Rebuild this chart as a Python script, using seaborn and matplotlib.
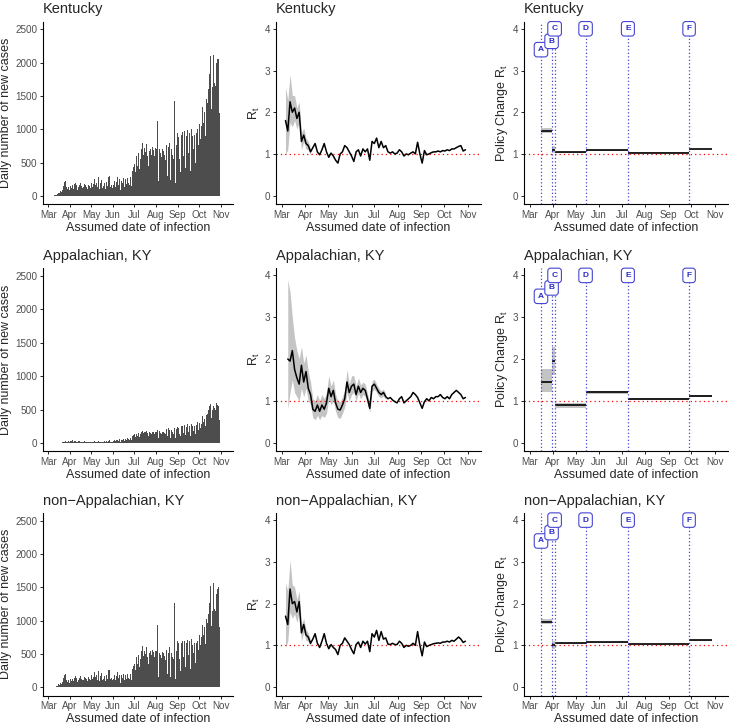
import numpy as np
import pandas as pd
import matplotlib
matplotlib.use("Agg")
import matplotlib.pyplot as plt
import matplotlib.dates as mdates
import seaborn as sns

sns.set_theme(style="ticks")
plt.rcParams["font.family"] = ["Liberation Sans", "DejaVu Sans"]

regions = ["Kentucky", "Appalachian, KY", "non\u2212Appalachian, KY"]

# daily new cases by assumed infection date, 2020-03-06 .. 2020-10-30
case_dates = pd.date_range("2020-03-06", "2020-10-30", freq="D")
cases_ky = [
    2, 3, 5, 6, 10, 12, 15,
    20, 28, 35, 50, 40, 70, 160,
    60, 90, 110, 150, 210, 230, 120,
    130, 100, 170, 140, 90, 200, 150,
    120, 160, 240, 110, 180, 130, 200,
    160, 220, 90, 140, 170, 230, 190,
    150, 260, 120, 130, 180, 200, 160,
    140, 430, 100, 170, 230, 150, 120,
    200, 360, 140, 180, 90, 250, 170,
    160, 200, 130, 280, 150, 110, 190,
    170, 240, 120, 150, 260, 200, 100,
    180, 210, 150, 130, 290, 300, 140,
    200, 170, 120, 250, 160, 230, 180,
    140, 210, 280, 130, 170, 250, 200,
    90, 230, 190, 160, 270, 140, 210,
    250, 180, 130, 270, 200, 160, 240,
    280, 150, 750, 380, 440, 400, 480,
    360, 600, 520, 450, 640, 850, 400,
    560, 700, 480, 800, 620, 380, 720,
    660, 540, 780, 600, 450, 740, 680,
    700, 350, 620, 730, 560, 690, 600,
    720, 480, 700, 1120, 650, 230, 700,
    640, 760, 580, 700, 280, 680, 620,
    720, 540, 770, 300, 660, 740, 800,
    610, 240, 700, 840, 620, 550, 1430,
    780, 200, 760, 620, 940, 880, 560,
    800, 360, 920, 850, 960, 600, 780,
    970, 420, 900, 840, 990, 640, 860,
    950, 380, 820, 1010, 900, 700, 980,
    920, 500, 1060, 940, 1000, 760, 1130,
    1080, 850, 1320, 1050, 1340, 1200, 1100,
    1260, 900, 1460, 1450, 1400, 1250, 1600,
    1830, 1550, 2100, 1300, 1640, 1210, 2120,
    1700, 1200, 1650, 2000, 2050, 2300, 2060,
    1250,
]
cases_app = [
    0, 0, 0, 0, 1, 1, 1,
    2, 2, 3, 4, 3, 5, 8,
    6, 8, 10, 12, 20, 25, 15,
    18, 14, 30, 35, 20, 40, 25,
    30, 38, 28, 20, 36, 25, 30,
    22, 34, 15, 25, 30, 28, 20,
    18, 25, 12, 20, 26, 22, 15,
    14, 30, 10, 18, 22, 16, 12,
    20, 28, 14, 18, 10, 24, 16,
    14, 20, 12, 26, 18, 10, 16,
    16, 22, 12, 18, 30, 24, 10,
    20, 28, 18, 14, 34, 38, 16,
    26, 22, 14, 38, 30, 44, 28,
    24, 40, 52, 26, 34, 56, 40,
    20, 48, 44, 36, 62, 30, 50,
    60, 46, 32, 70, 54, 40, 66,
    80, 44, 150, 110, 120, 90, 130,
    96, 140, 120, 100, 150, 170, 90,
    130, 160, 110, 180, 150, 80, 170,
    160, 120, 180, 150, 100, 170, 160,
    150, 90, 140, 170, 130, 160, 140,
    170, 110, 160, 190, 150, 70, 180,
    150, 190, 140, 170, 90, 160, 150,
    170, 130, 210, 100, 180, 230, 200,
    150, 80, 190, 240, 170, 130, 220,
    200, 70, 210, 180, 240, 220, 140,
    220, 110, 250, 200, 260, 150, 210,
    270, 120, 240, 230, 280, 160, 250,
    260, 110, 230, 290, 260, 180, 280,
    260, 140, 300, 270, 310, 200, 340,
    300, 220, 380, 290, 410, 330, 320,
    360, 250, 460, 420, 440, 330, 500,
    560, 430, 580, 380, 500, 330, 560,
    520, 320, 500, 600, 570, 610, 560,
    340,
]
cases_nonapp = [
    2, 3, 5, 6, 9, 11, 14,
    18, 26, 32, 46, 37, 65, 152,
    54, 82, 100, 138, 190, 205, 105,
    112, 86, 140, 105, 70, 160, 125,
    90, 122, 212, 90, 144, 105, 170,
    138, 186, 75, 115, 140, 202, 170,
    132, 235, 108, 110, 154, 178, 145,
    126, 400, 90, 152, 208, 134, 108,
    180, 332, 126, 162, 80, 226, 154,
    146, 180, 118, 254, 132, 100, 174,
    154, 218, 108, 132, 230, 176, 90,
    160, 182, 132, 116, 256, 262, 124,
    174, 148, 106, 212, 130, 186, 152,
    116, 170, 228, 104, 136, 194, 160,
    70, 182, 146, 124, 208, 110, 160,
    190, 134, 98, 200, 146, 120, 174,
    200, 106, 600, 270, 320, 310, 350,
    264, 460, 400, 350, 490, 680, 310,
    430, 540, 370, 620, 470, 300, 550,
    500, 420, 600, 450, 350, 570, 520,
    550, 260, 480, 560, 430, 530, 460,
    550, 370, 540, 930, 500, 160, 520,
    490, 570, 440, 530, 190, 520, 470,
    550, 410, 560, 200, 480, 510, 600,
    460, 160, 510, 600, 450, 420, 1260,
    580, 130, 550, 440, 700, 660, 420,
    580, 250, 670, 650, 700, 450, 570,
    700, 300, 660, 610, 710, 480, 610,
    690, 270, 590, 720, 640, 520, 700,
    660, 360, 760, 670, 690, 560, 790,
    780, 630, 940, 760, 930, 870, 780,
    900, 650, 1000, 1030, 960, 920, 1100,
    1270, 1120, 1520, 920, 1140, 880, 1560,
    1180, 880, 1150, 1400, 1480, 1740, 1500,
    910,
]

# Rt estimates every third day, 2020-03-06 .. 2020-10-29
rt_dates = pd.date_range("2020-03-06", "2020-10-29", freq="3D")
rt_ky = [
    1.8, 1.55, 2.25, 2.0, 2.1, 1.85, 2.0, 1.3, 1.45, 1.25,
    1.2, 1.05, 1.15, 1.25, 1.05, 0.98, 1.1, 1.25, 1.05, 0.92,
    1.02, 0.95, 0.85, 0.78, 1.0, 1.05, 1.2, 1.15, 1.05, 0.95,
    0.82, 1.05, 1.1, 0.95, 1.12, 1.05, 1.12, 0.85, 1.3, 1.25,
    1.38, 1.15, 1.3, 1.15, 1.2, 1.05, 1.02, 1.05, 1.0, 1.02,
    1.1, 1.05, 0.95, 1.0, 0.98, 1.02, 1.05, 1.0, 1.28, 1.0,
    0.78, 1.08, 0.98, 1.0, 1.03, 1.05, 1.05, 1.07, 1.05, 1.08,
    1.07, 1.1, 1.08, 1.12, 1.12, 1.15, 1.18, 1.2, 1.07, 1.1,
]
rt_app = [
    np.nan, 2.0, 1.95, 2.2, 1.75, 1.55, 1.4, 1.85, 1.45, 1.7,
    1.3, 1.15, 0.8, 0.75, 0.9, 0.75, 0.9, 0.8, 0.95, 1.3,
    1.1, 1.25, 0.95, 0.8, 0.78, 0.9, 1.05, 1.45, 1.2, 1.35,
    1.4, 1.15, 1.35, 1.2, 1.3, 1.25, 1.05, 0.82, 1.35, 1.4,
    1.3, 1.2, 1.15, 1.2, 1.1, 1.05, 1.08, 1.02, 0.98, 0.95,
    1.05, 1.1, 0.95, 1.0, 1.05, 1.1, 1.2, 1.15, 1.08, 0.95,
    0.82, 0.98, 1.05, 1.0, 1.08, 1.05, 1.1, 1.1, 1.15, 1.08,
    1.05, 1.1, 1.05, 1.15, 1.2, 1.25, 1.2, 1.15, 1.05, 1.08,
]
rt_nonapp = [
    1.7, 1.5, 2.35, 2.0, 2.05, 1.8, 2.05, 1.3, 1.5, 1.25,
    1.2, 1.05, 1.15, 1.28, 1.05, 0.95, 1.1, 1.28, 1.05, 0.92,
    1.02, 0.95, 0.9, 0.78, 1.0, 1.05, 1.18, 1.1, 1.02, 0.9,
    0.8, 1.02, 1.08, 0.95, 1.1, 1.03, 1.1, 0.85, 1.28, 1.2,
    1.36, 1.12, 1.33, 1.15, 1.18, 1.03, 1.02, 1.05, 1.02, 1.02,
    1.1, 1.05, 0.95, 1.0, 0.98, 1.0, 1.05, 1.0, 1.33, 1.0,
    0.75, 1.08, 0.97, 1.0, 1.02, 1.04, 1.05, 1.06, 1.05, 1.08,
    1.08, 1.1, 1.08, 1.12, 1.1, 1.15, 1.2, 1.15, 1.07, 1.1,
]

# credible intervals where they are wider than the line
rt_ky_lo = [1.0, 1.1, 1.75, 1.65, 1.8, 1.6, 1.75, 1.1, 1.3, 1.12, 1.1, 0.97]
rt_ky_hi = [2.6, 2.3, 2.9, 2.4, 2.4, 2.1, 2.25, 1.5, 1.62, 1.38, 1.3, 1.13]
rt_nonapp_lo = [0.95, 1.1, 1.8, 1.65, 1.75, 1.55, 1.8, 1.1, 1.32, 1.12, 1.1, 0.97]
rt_nonapp_hi = [2.5, 2.3, 3.05, 2.45, 2.4, 2.1, 2.3, 1.5, 1.65, 1.38, 1.3, 1.13]
rt_app_lo = [
    np.nan, 0.8, 1.2, 1.5, 1.2, 1.1, 1.0, 1.3, 1.1, 1.3,
    1.0, 0.9, 0.6, 0.55, 0.65, 0.55, 0.65, 0.6, 0.7, 1.05,
    0.9, 1.0, 0.75, 0.6, 0.58, 0.7, 0.85, 1.2, 1.0, 1.15,
    1.2, 1.0, 1.18, 1.05, 1.15, 1.1, 0.93, 0.72, 1.22, 1.28,
    1.2, 1.1, 1.07, 1.12, 1.03,
]
rt_app_hi = [
    np.nan, 3.9, 3.6, 3.0, 2.5, 2.2, 2.0, 2.3, 1.9, 2.1,
    1.7, 1.45, 1.05, 1.0, 1.15, 1.0, 1.15, 1.05, 1.2, 1.6,
    1.35, 1.5, 1.15, 1.0, 0.98, 1.1, 1.25, 1.75, 1.4, 1.6,
    1.6, 1.35, 1.55, 1.38, 1.45, 1.4, 1.18, 0.93, 1.48, 1.52,
    1.4, 1.3, 1.24, 1.28, 1.17,
]

# policy changes
policy_labels = ["A", "B", "C", "D", "E", "F"]
policy_dates = pd.to_datetime(["2020-03-16", "2020-03-30", "2020-04-03",
                               "2020-05-14", "2020-07-09", "2020-09-28"])
policy_label_y = [3.5, 3.7, 4.0, 4.0, 4.0, 4.0]
policy_end = pd.Timestamp("2020-10-28")

prt_ky = [1.55, 1.1, 1.04, 1.09, 1.03, 1.12]
prt_ky_lo = [1.5, 1.02, 1.03, 1.08, 1.02, 1.11]
prt_ky_hi = [1.62, 1.18, 1.05, 1.1, 1.04, 1.13]
prt_app = [1.45, 1.95, 0.9, 1.2, 1.04, 1.12]
prt_app_lo = [1.2, 1.62, 0.84, 1.17, 1.02, 1.1]
prt_app_hi = [1.75, 2.28, 0.96, 1.24, 1.06, 1.14]
prt_nonapp = [1.57, 1.0, 1.05, 1.07, 1.03, 1.12]
prt_nonapp_lo = [1.52, 0.92, 1.04, 1.06, 1.02, 1.11]
prt_nonapp_hi = [1.63, 1.1, 1.06, 1.08, 1.04, 1.13]

cases_all = [cases_ky, cases_app, cases_nonapp]
rt_all = [(rt_ky, rt_ky_lo, rt_ky_hi), (rt_app, rt_app_lo, rt_app_hi),
          (rt_nonapp, rt_nonapp_lo, rt_nonapp_hi)]
prt_all = [(prt_ky, prt_ky_lo, prt_ky_hi), (prt_app, prt_app_lo, prt_app_hi),
           (prt_nonapp, prt_nonapp_lo, prt_nonapp_hi)]

W, H = 729, 727
fig = plt.figure(figsize=(W / 100, H / 100), dpi=100)
col_px = [(43, 233), (276, 481), (524, 728)]
row_px = [(21.7, 204), (268.3, 451), (513, 695.5)]
xlim = (pd.Timestamp("2020-02-22 12:00"), pd.Timestamp("2020-11-18 12:00"))
RIB = "#C4C4C4"
BLUE = "#4646D2"


def add_ax(r, c):
    x0, x1 = col_px[c]
    y0, y1 = row_px[r]
    return fig.add_axes([x0 / W, 1 - y1 / H, (x1 - x0) / W, (y1 - y0) / H])


def style(ax, title, ylabel):
    sns.despine(ax=ax)
    for s in ["left", "bottom"]:
        ax.spines[s].set_linewidth(0.8)
        ax.spines[s].set_color("black")
    ax.set_xlim(*xlim)
    ax.xaxis.set_major_locator(mdates.MonthLocator())
    ax.xaxis.set_major_formatter(mdates.DateFormatter("%b"))
    ax.tick_params(length=2.2, width=0.6, color="black", labelsize=7.1,
                   labelcolor="#4D4D4D", pad=2)
    ax.set_xlabel("Assumed date of infection", fontsize=9, labelpad=1.5)
    ax.set_ylabel(ylabel, fontsize=9, labelpad=2)
    ax.set_title(title, loc="left", fontsize=10.5, pad=6)
    ax.grid(False)


for r, region in enumerate(regions):
    # cases
    ax = add_ax(r, 0)
    ax.bar(case_dates, cases_all[r], width=1.0, color="#4D4D4D", linewidth=0)
    ax.set_ylim(-120, 2615)
    ax.set_yticks([0, 500, 1000, 1500, 2000, 2500])
    style(ax, region, "Daily number of new cases")

    # Rt
    ax = add_ax(r, 1)
    rt, lo, hi = rt_all[r]
    ax.fill_between(rt_dates[:len(lo)], lo, hi, color=RIB, lw=0)
    ax.axhline(1, color="red", ls=(0, (1, 2.5)), lw=0.9)
    sns.lineplot(x=rt_dates, y=rt, ax=ax, color="black", lw=1.1)
    ax.set_ylim(-0.2, 4.17)
    ax.set_yticks([0, 1, 2, 3, 4])
    style(ax, region, r"$\mathregular{R_t}$")

    # policy change Rt
    ax = add_ax(r, 2)
    pv, plo, phi = prt_all[r]
    ends = list(policy_dates[1:]) + [policy_end]
    seg = pd.DataFrame({"start": policy_dates, "end": ends,
                        "rt": pv, "lo": plo, "hi": phi})
    for _, s in seg.iterrows():
        ax.fill_between([s["start"], s["end"]], s["lo"], s["hi"], color=RIB, lw=0)
        ax.hlines(s["rt"], s["start"], s["end"], color="black", lw=1.2)
    ax.axhline(1, color="red", ls=(0, (1, 2.5)), lw=0.9)
    for d, lab, ly in zip(policy_dates, policy_labels, policy_label_y):
        ax.axvline(d, color=BLUE, ls=(0, (1, 1.8)), lw=0.9)
        ax.text(d, ly, lab, ha="center", va="center", fontsize=6,
                color="#2B2BC8", fontweight="bold",
                bbox=dict(boxstyle="round,pad=0.45,rounding_size=0.35",
                          fc="white", ec=BLUE, lw=0.8))
    ax.set_ylim(-0.2, 4.17)
    ax.set_yticks([0, 1, 2, 3, 4])
    style(ax, region, r"Policy Change $\mathregular{R_t}$")

fig.savefig("out.png", dpi=100)
